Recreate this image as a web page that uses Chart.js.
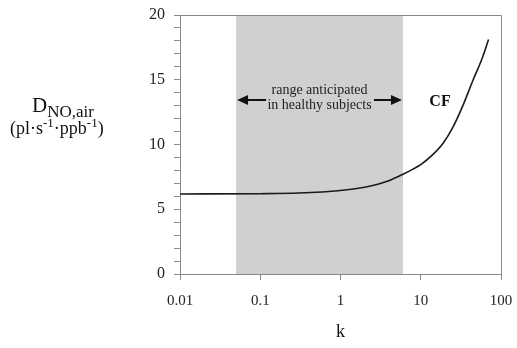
<!DOCTYPE html>
<html><head><meta charset="utf-8">
<script src="https://cdn.jsdelivr.net/npm/chart.js@4.4.1/dist/chart.umd.min.js"></script>
<style>html,body{margin:0;padding:0;background:#fff}#wrap{width:517px;height:348px}</style>
</head><body><div id="wrap"><canvas id="c" width="517" height="348"></canvas></div>
<script>
// data
const kValues = [0.01, 0.1, 0.3, 1, 2, 3, 4, 6, 8, 10, 14, 19, 25, 34, 45, 57, 70];
const dValues = [6.18, 6.2, 6.25, 6.45, 6.7, 6.95, 7.2, 7.7, 8.1, 8.45, 9.2, 10.1, 11.3, 13.1, 15.0, 16.5, 18.1];
const rangeK = [0.05, 6];
const xTicks = [0.01, 0.1, 1, 10, 100];
const xTickLabels = ['0.01', '0.1', '1', '10', '100'];
const yMajor = [0, 5, 10, 15, 20];

const SERIF = "'Liberation Serif','Times New Roman',serif";

const overlay = {
  id: 'overlay',
  beforeDatasetsDraw(chart) {
    const {ctx} = chart;
    const xs = chart.scales.x, ys = chart.scales.y;
    const x0 = xs.getPixelForValue(rangeK[0]), x1 = xs.getPixelForValue(rangeK[1]);
    ctx.save();
    ctx.fillStyle = '#d0d0d0';
    ctx.fillRect(x0, ys.getPixelForValue(20), x1 - x0, ys.getPixelForValue(0) - ys.getPixelForValue(20));
    ctx.restore();
  },
  afterDraw(chart) {
    const {ctx, chartArea: a} = chart;
    const xs = chart.scales.x;
    ctx.save();
    // frame
    ctx.strokeStyle = '#8a8a8a';
    ctx.lineWidth = 1;
    ctx.beginPath();
    ctx.moveTo(a.left, a.top + 0.5); ctx.lineTo(a.right + 0.5, a.top + 0.5); ctx.lineTo(a.right + 0.5, a.bottom);
    ctx.stroke();
    // annotation text
    const x0 = xs.getPixelForValue(rangeK[0]), x1 = xs.getPixelForValue(rangeK[1]);
    const cx = (x0 + x1) / 2;
    ctx.fillStyle = '#222';
    ctx.font = '14px ' + SERIF;
    ctx.textAlign = 'center';
    ctx.textBaseline = 'middle';
    ctx.fillText('range anticipated', cx, 90);
    ctx.fillText('in healthy subjects', cx, 105);
    // arrows
    const ay = 100;
    ctx.strokeStyle = '#111'; ctx.lineWidth = 2;
    ctx.beginPath(); ctx.moveTo(x0 + 10, ay); ctx.lineTo(x0 + 30, ay); ctx.stroke();
    ctx.beginPath(); ctx.moveTo(x1 - 29, ay); ctx.lineTo(x1 - 10, ay); ctx.stroke();
    ctx.fillStyle = '#111';
    ctx.beginPath(); ctx.moveTo(x0 + 1, ay); ctx.lineTo(x0 + 12, ay - 5); ctx.lineTo(x0 + 12, ay + 5); ctx.closePath(); ctx.fill();
    ctx.beginPath(); ctx.moveTo(x1 - 1, ay); ctx.lineTo(x1 - 12, ay - 5); ctx.lineTo(x1 - 12, ay + 5); ctx.closePath(); ctx.fill();
    // CF
    ctx.fillStyle = '#111';
    ctx.font = 'bold 16px ' + SERIF;
    ctx.fillText('CF', 440, 102);
    // x title
    ctx.font = '18px ' + SERIF;
    ctx.fillText('k', (a.left + a.right) / 2, 332);
    // y title
    ctx.textAlign = 'left';
    ctx.textBaseline = 'alphabetic';
    ctx.font = '21px ' + SERIF;
    ctx.fillText('D', 32, 112);
    let w = ctx.measureText('D').width;
    ctx.font = '17px ' + SERIF;
    ctx.fillText('NO,air', 32 + w, 117);
    // units line
    let x = 10; const by = 134;
    const parts = [['(pl\u00b7s', 18, 0], ['-1', 13, -7], ['\u00b7ppb', 18, 0], ['-1', 13, -7], [')', 18, 0]];
    for (const [t, fs, dy] of parts) {
      ctx.font = fs + 'px ' + SERIF;
      ctx.fillText(t, x, by + dy);
      x += ctx.measureText(t).width;
    }
    ctx.restore();
  }
};

new Chart(document.getElementById('c'), {
  type: 'line',
  data: {
    datasets: [{
      data: kValues.map((k, i) => ({x: k, y: dValues[i]})),
      borderColor: '#1a1a1a',
      borderWidth: 1.6,
      pointRadius: 0,
      cubicInterpolationMode: 'monotone',
      fill: false
    }]
  },
  options: {
    responsive: false,
    animation: false,
    devicePixelRatio: 1,
    layout: {padding: {left: 0, right: 16, top: 15, bottom: 0}},
    plugins: {legend: {display: false}, tooltip: {enabled: false}},
    scales: {
      x: {
        type: 'logarithmic', min: 0.01, max: 100,
        afterBuildTicks(s) { s.ticks = xTicks.map(v => ({value: v})); },
        afterFit(s) { s.height = 74; s.paddingLeft = 0; s.paddingRight = 0; },
        grid: {drawOnChartArea: false, drawTicks: true, tickLength: 6, color: '#8a8a8a'},
        border: {color: '#8a8a8a', width: 1},
        ticks: {
          autoSkip: false, maxRotation: 0, padding: 12, color: '#222',
          font: {family: SERIF, size: 15},
          callback(v) { const i = xTicks.indexOf(v); return i >= 0 ? xTickLabels[i] : ''; }
        }
      },
      y: {
        min: 0, max: 20,
        afterFit(s) { s.width = 180; s.paddingTop = 0; s.paddingBottom = 0; },
        grid: {drawOnChartArea: false, drawTicks: true, tickLength: 6, color: '#8a8a8a'},
        border: {color: '#8a8a8a', width: 1},
        ticks: {
          stepSize: 1, autoSkip: false, padding: 9, color: '#222',
          font: {family: SERIF, size: 16},
          callback(v) { return yMajor.includes(v) ? String(v) : ''; }
        }
      }
    }
  },
  plugins: [overlay]
});
</script></body></html>
